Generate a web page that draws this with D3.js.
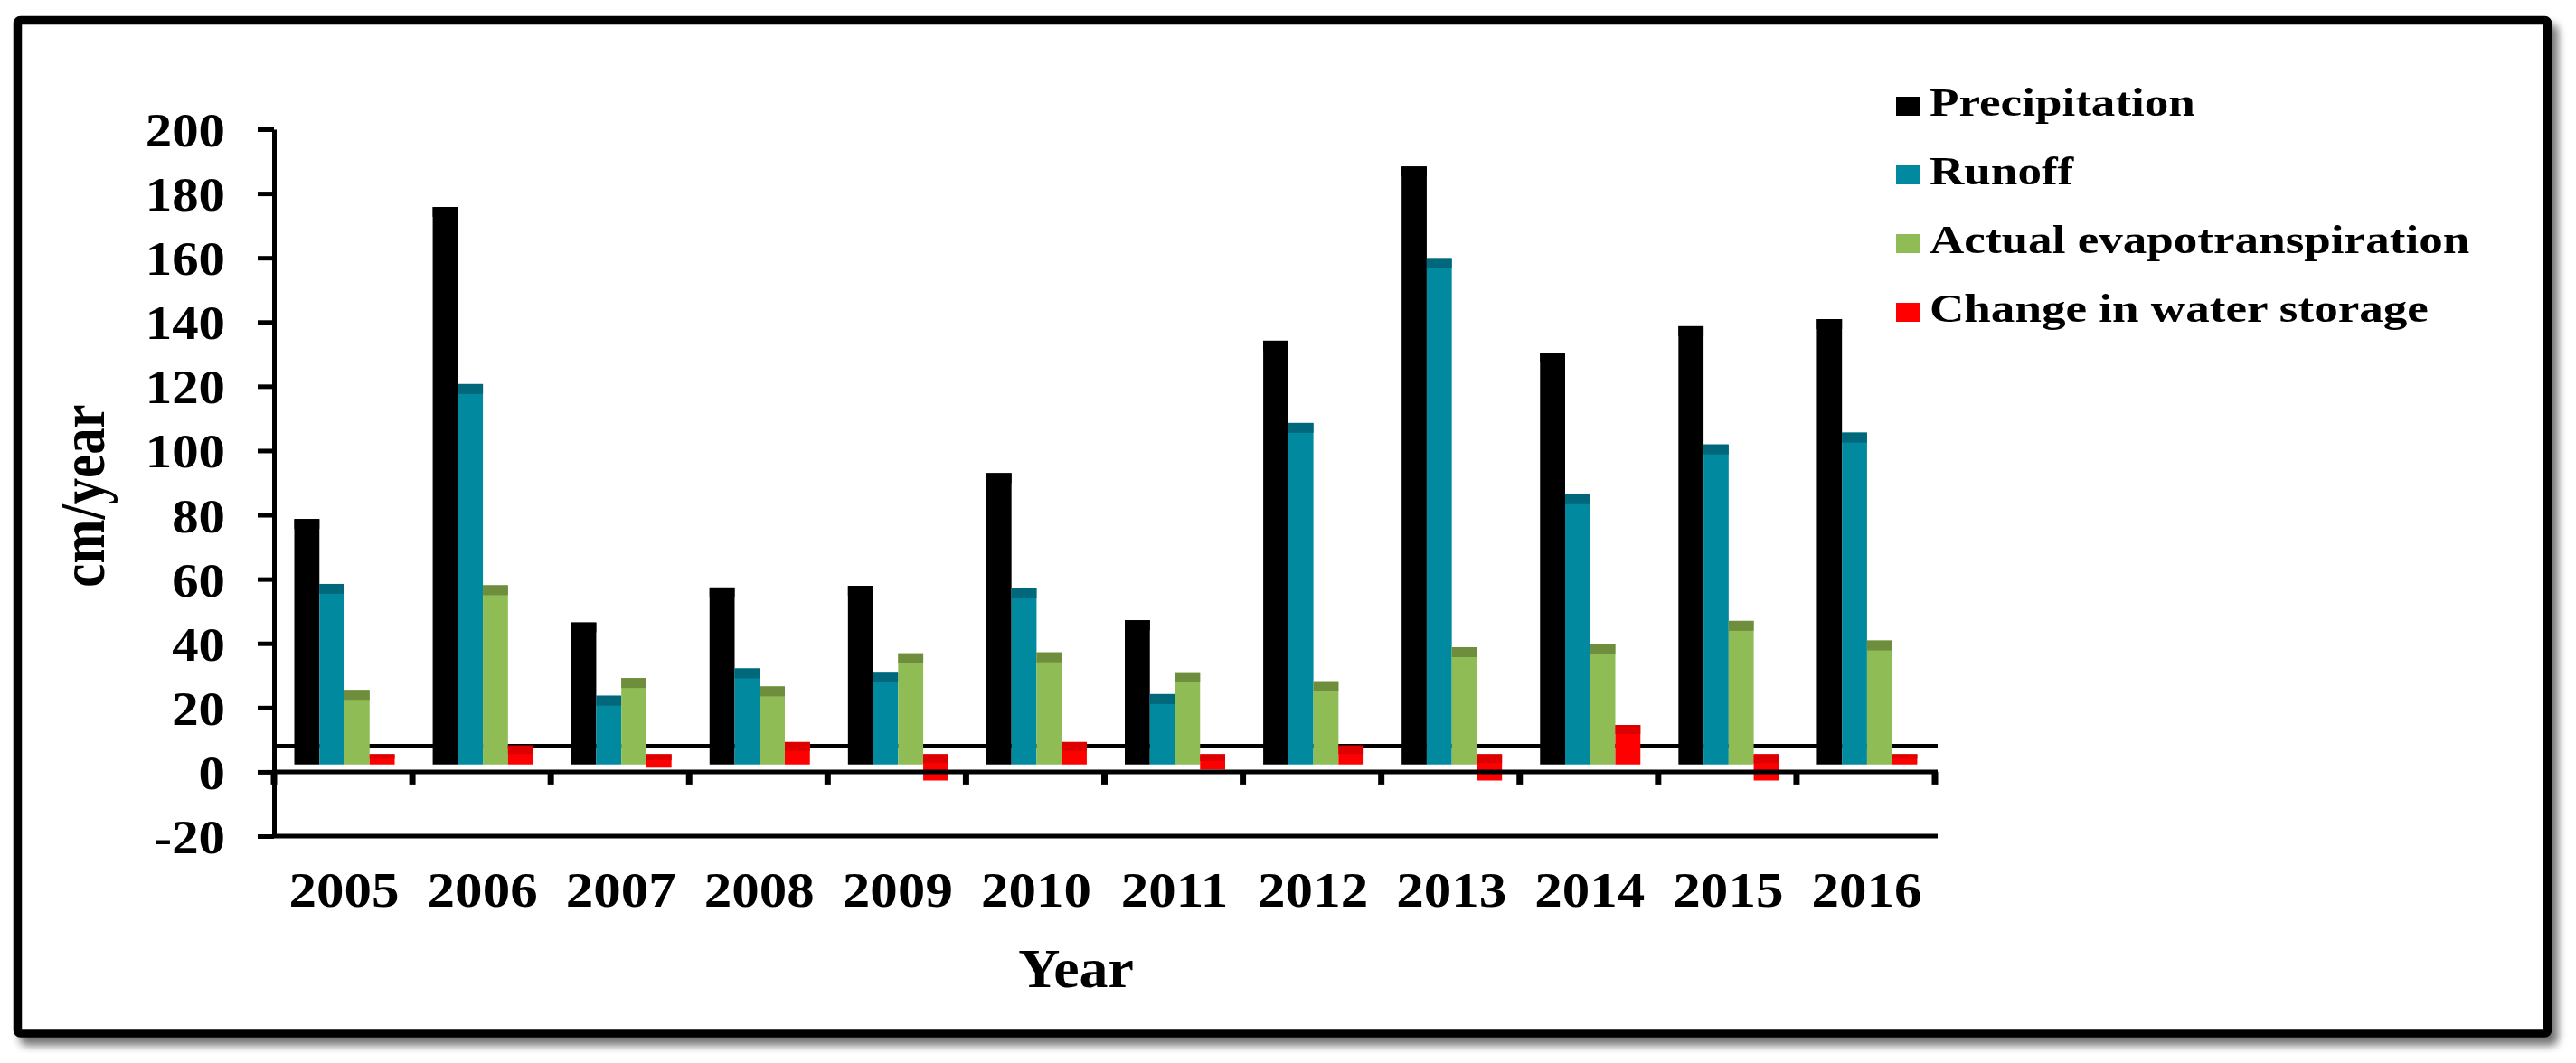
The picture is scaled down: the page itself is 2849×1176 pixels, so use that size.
<!DOCTYPE html>
<html>
<head>
<meta charset="utf-8">
<script src="https://cdn.jsdelivr.net/npm/d3@7"></script>
<style>
  html, body { margin: 0; padding: 0; background: #fff; }
  svg { display: block; }
  text { font-family: "Liberation Serif", "Times New Roman", serif; font-weight: bold; fill: #000; }
</style>
</head>
<body>
<svg id="chart" width="2849" height="1176"></svg>
<script>
// ---------------- data ----------------
const years = ["2005","2006","2007","2008","2009","2010","2011","2012","2013","2014","2015","2016"];
const precipitation = [78.7, 175.8, 46.5, 57.4, 57.9, 93.0, 47.2, 134.2, 188.4, 130.5, 138.7, 140.9];
const runoff        = [58.5, 120.7, 23.7, 32.2, 31.1, 57.1, 24.2, 108.6, 159.9, 86.4, 101.9, 105.6];
const evapotrans    = [25.5, 58.1, 29.2, 26.6, 36.9, 37.2, 31.0, 28.2, 38.8, 39.9, 47.0, 40.9];
// change in water storage drawn as floating bars (low / high ends)
const storageLow    = [2.3, 2.3, 1.3, 2.3, -2.7, 2.3, 0.7, 2.3, -2.7, 2.3, -2.7, 2.3];
const storageHigh   = [5.5, 8.2, 5.5, 9.3, 5.5, 9.3, 5.5, 8.2, 5.5, 14.6, 5.5, 5.5];
const barBase = 2.3;        // bars in the figure rise from just above zero
const refLineValue = 8;     // horizontal reference line drawn behind bars
const yTicks = [-20, 0, 20, 40, 60, 80, 100, 120, 140, 160, 180, 200];
const seriesNames = ["Precipitation", "Runoff", "Actual evapotranspiration", "Change in water storage"];
const seriesColors = ["#000000", "#00899F", "#8FBC54", "#FF0000"];
const seriesDark   = ["#000000", "#00687A", "#6E8E3E", "#DD0000"];

// ---------------- setup ----------------
const svg = d3.select("#chart");
const defs = svg.append("defs");
const f = defs.append("filter").attr("id", "shadow").attr("x", "-5%").attr("y", "-5%").attr("width", "110%").attr("height", "115%");
f.append("feGaussianBlur").attr("in", "SourceAlpha").attr("stdDeviation", 5).attr("result", "b");
f.append("feOffset").attr("in", "b").attr("dx", 7).attr("dy", 9).attr("result", "o");
f.append("feComponentTransfer").attr("in", "o").attr("result", "o2")
  .append("feFuncA").attr("type", "linear").attr("slope", 0.55);
const m = f.append("feMerge");
m.append("feMergeNode").attr("in", "o2");
m.append("feMergeNode").attr("in", "SourceGraphic");

// frame
svg.append("rect")
  .attr("x", 19.5).attr("y", 22.5).attr("width", 2798).attr("height", 1120.5)
  .attr("rx", 3)
  .attr("fill", "#fff").attr("stroke", "#000").attr("stroke-width", 9.5)
  .attr("filter", "url(#shadow)");

const x = d3.scaleBand().domain(years).range([303, 2140]).padding(0);
const y = d3.scaleLinear().domain([-20, 200]).range([925, 143]);
const xs = d3.scaleBand().domain(d3.range(4)).range([22.5, 133.5]).padding(0);
const plotRight = 2143;

// reference line (behind bars)
svg.append("line")
  .attr("x1", x.range()[0]).attr("x2", plotRight)
  .attr("y1", y(refLineValue)).attr("y2", y(refLineValue))
  .attr("stroke", "#000").attr("stroke-width", 5);

// bars
const valueSeries = [precipitation, runoff, evapotrans];
const barsG = svg.append("g");
valueSeries.forEach((vals, si) => {
  const g = barsG.append("g");
  g.selectAll("rect.main").data(vals).join("rect")
    .attr("class", "main")
    .attr("x", (d, i) => x(years[i]) + xs(si))
    .attr("width", xs.bandwidth())
    .attr("y", d => y(d))
    .attr("height", d => y(barBase) - y(d))
    .attr("fill", seriesColors[si]);
  g.selectAll("rect.top").data(vals).join("rect")
    .attr("class", "top")
    .attr("x", (d, i) => x(years[i]) + xs(si))
    .attr("width", xs.bandwidth())
    .attr("y", d => y(d))
    .attr("height", 11)
    .attr("fill", seriesDark[si]);
});
const gs = barsG.append("g");
gs.selectAll("rect.main").data(years).join("rect")
  .attr("class", "main")
  .attr("x", d => x(d) + xs(3))
  .attr("width", xs.bandwidth())
  .attr("y", (d, i) => y(storageHigh[i]))
  .attr("height", (d, i) => y(storageLow[i]) - y(storageHigh[i]))
  .attr("fill", seriesColors[3]);
gs.selectAll("rect.top").data(years).join("rect")
  .attr("class", "top")
  .attr("x", d => x(d) + xs(3))
  .attr("width", xs.bandwidth())
  .attr("y", (d, i) => y(storageHigh[i]))
  .attr("height", (d, i) => Math.min(10, (y(storageLow[i]) - y(storageHigh[i])) * 0.45))
  .attr("fill", seriesDark[3]);

// horizontal axis lines at 0 and -20
[0, -20].forEach(v => {
  svg.append("line")
    .attr("x1", x.range()[0]).attr("x2", plotRight)
    .attr("y1", y(v)).attr("y2", y(v))
    .attr("stroke", "#000").attr("stroke-width", 5);
});

// category boundary ticks below the zero line
const bounds = d3.range(years.length + 1).map(i => x.range()[0] + i * x.step());
svg.append("g").selectAll("line").data(bounds).join("line")
  .attr("x1", d => d).attr("x2", d => d)
  .attr("y1", y(0)).attr("y2", y(0) + 14)
  .attr("stroke", "#000").attr("stroke-width", 7);

// y axis
const yAxisG = svg.append("g")
  .attr("transform", `translate(${x.range()[0]},0)`)
  .call(d3.axisLeft(y).tickValues(yTicks).tickFormat(d => String(d)).tickSize(18).tickSizeOuter(0));
yAxisG.select(".domain").attr("stroke", "#000").attr("stroke-width", 5);
yAxisG.selectAll(".tick line").attr("stroke", "#000").attr("stroke-width", 5);
yAxisG.selectAll(".tick text")
  .attr("x", 0).attr("dy", null).attr("y", 0)
  .attr("text-anchor", "end")
  .attr("transform", "translate(-54,18.5) scale(1.11,1)")
  .style("font-family", '"Liberation Serif", "Times New Roman", serif')
  .style("font-weight", "bold")
  .style("font-size", "53px")
  .attr("fill", "#000");
yAxisG.attr("font-family", null).attr("font-size", null);

// x labels
svg.append("g").selectAll("text").data(years).join("text")
  .attr("text-anchor", "middle")
  .attr("transform", d => `translate(${x(d) + x.bandwidth() / 2 + 1},1003) scale(1.13,1)`)
  .style("font-size", "54px")
  .text(d => d);

// axis titles
svg.append("text")
  .attr("text-anchor", "middle")
  .attr("transform", "translate(1190,1092) scale(1.03,1)")
  .style("font-size", "62px")
  .text("Year");
svg.append("text")
  .attr("text-anchor", "middle")
  .attr("transform", "translate(115,548.5) rotate(-90) scale(0.84,1)")
  .style("font-size", "70px")
  .text("cm/year");

// legend
const legendBase = [128, 204, 280, 356];
const lg = svg.append("g");
seriesNames.forEach((name, i) => {
  lg.append("rect")
    .attr("x", 2097).attr("y", legendBase[i] - 21)
    .attr("width", 27).attr("height", 21)
    .attr("fill", seriesColors[i]);
  lg.append("text")
    .attr("transform", `translate(2134,${legendBase[i]}) scale(1.18,1)`)
    .style("font-size", "45px")
    .text(name);
});
</script>
</body>
</html>
